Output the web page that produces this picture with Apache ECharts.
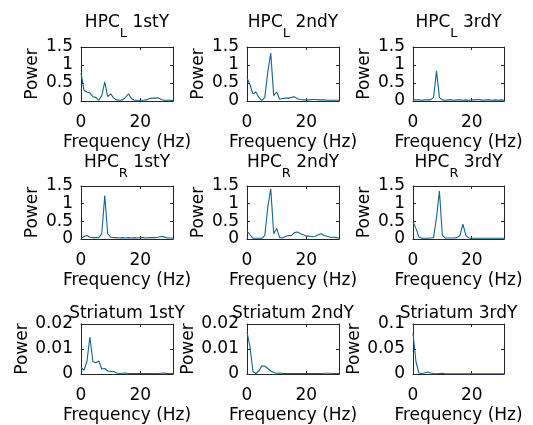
<!DOCTYPE html>
<html><head><meta charset="utf-8">
<script src="https://cdn.jsdelivr.net/npm/echarts@6/dist/echarts.min.js"></script>
<style>html,body{margin:0;padding:0;background:#fff}#c{width:533px;height:425px}</style>
</head><body><div id="c"></div>
<script>
// Frequency grid (Hz)
const freqHz = [0,1,2,3,4,5,6,7,8,9,10,11,12,13,14,15,16,17,18,19,20,21,22,23,24,25,26,27,28,29,30,31];

// Panel titles
const titleMain = ['HPC','HPC','HPC','HPC','HPC','HPC','Striatum 1stY','Striatum 2ndY','Striatum 3rdY'];
const titleSub  = ['L','L','L','R','R','R','','',''];
const titleTail = [' 1stY',' 2ndY',' 3rdY',' 1stY',' 2ndY',' 3rdY','','',''];

// Power spectra
const hpcL_1stY = [0.78,0.30,0.25,0.22,0.12,0.10,0.02,0.15,0.53,0.12,0.20,0.08,0.03,0.02,0.03,0.10,0.20,0.06,0.02,0.02,0.02,0.02,0.03,0.07,0.08,0.08,0.09,0.04,0.02,0.02,0.02,0.01];
const hpcL_2ndY = [0.65,0.45,0.20,0.25,0.10,0.02,0.10,0.80,1.33,0.15,0.25,0.05,0.07,0.08,0.08,0.10,0.12,0.06,0.04,0.03,0.03,0.03,0.04,0.04,0.03,0.03,0.03,0.02,0.02,0.02,0.02,0.02];
const hpcL_3rdY = [0.03,0.03,0.03,0.02,0.03,0.03,0.03,0.10,0.83,0.10,0.03,0.02,0.03,0.03,0.02,0.03,0.03,0.02,0.03,0.02,0.03,0.03,0.04,0.03,0.02,0.03,0.03,0.02,0.03,0.02,0.03,0.02];
const hpcR_1stY = [0.02,0.07,0.10,0.05,0.04,0.04,0.04,0.15,1.23,0.15,0.05,0.04,0.04,0.03,0.04,0.03,0.04,0.03,0.04,0.03,0.04,0.04,0.03,0.04,0.04,0.04,0.05,0.07,0.06,0.03,0.03,0.03];
const hpcR_2ndY = [0.22,0.12,0.02,0.02,0.02,0.02,0.10,0.90,1.42,0.15,0.30,0.04,0.03,0.08,0.10,0.10,0.18,0.20,0.15,0.12,0.08,0.08,0.07,0.08,0.12,0.15,0.10,0.08,0.05,0.05,0.04,0.03];
const hpcR_3rdY = [0.49,0.30,0.06,0.02,0.02,0.02,0.03,0.04,0.60,1.36,0.10,0.03,0.03,0.03,0.03,0.04,0.10,0.42,0.10,0.03,0.02,0.02,0.02,0.02,0.02,0.02,0.02,0.02,0.02,0.02,0.02,0.02];
const str_1stY = [0.0027,0.0015,0.0050,0.0148,0.0050,0.0045,0.0052,0.0020,0.0022,0.0012,0.0010,0.0010,0.0004,0.0002,0.0003,0.0004,0.0002,0.0002,0.0002,0.0002,0.0002,0.0002,0.0002,0.0002,0.0002,0.0002,0.0002,0.0003,0.0004,0.0002,0.0002,0.0002];
const str_2ndY = [0.0168,0.0110,0.0010,0.0002,0.0012,0.0033,0.0032,0.0022,0.0012,0.0006,0.0003,0.0004,0.0002,0.0002,0.0002,0.0002,0.0002,0.0002,0.0002,0.0002,0.0002,0.0002,0.0002,0.0002,0.0002,0.0002,0.0003,0.0003,0.0003,0.0002,0.0002,0.0002];
const str_3rdY = [0.082,0.025,0.002,0.001,0.002,0.004,0.002,0.001,0.0005,0.001,0.0015,0.0005,0.0003,0.0003,0.0003,0.0003,0.0003,0.0003,0.0003,0.0003,0.0003,0.0003,0.0003,0.0003,0.0003,0.0003,0.0003,0.0003,0.0003,0.0003,0.0003,0.0003];

// Axis tick settings
const xMax = 31, xInterval = 20;
const yMaxes = [1.5,1.5,1.5,1.5,1.5,1.5,0.02,0.02,0.1];
const yIntervals = [0.5,0.5,0.5,0.5,0.5,0.5,0.01,0.01,0.05];

const seriesData = [hpcL_1stY,hpcL_2ndY,hpcL_3rdY,hpcR_1stY,hpcR_2ndY,hpcR_3rdY,str_1stY,str_2ndY,str_3rdY];

const FONT = '"DejaVu Sans", sans-serif';
const FS = 17;
const INK = '#000';
const LINE = '#14638c';
const cols = [{left:81,width:92},{left:247,width:92},{left:413,width:91}];
const rows = [{top:47,height:54},{top:186,height:53},{top:324,height:51}];
const titleTop = [14,154,305];

const grids=[], xAxes=[], yAxes=[], series=[], titles=[];
for (let i=0;i<9;i++){
  const r=Math.floor(i/3), c=i%3;
  grids.push({left:cols[c].left, top:rows[r].top, width:cols[c].width, height:rows[r].height, containLabel:false});
  const axLine = {show:true, onZero:false, lineStyle:{color:'#262626', width:1}};
  const tick = {show:true, inside:true, length:3, lineStyle:{color:'#262626'}};
  xAxes.push({type:'value', gridIndex:i, position:'bottom', min:0, max:xMax, interval:xInterval,
    axisLine:axLine, axisTick:tick, splitLine:{show:false},
    axisLabel:{fontFamily:FONT, fontSize:FS, color:INK, margin:13, showMaxLabel:false},
    name:'Frequency (Hz)', nameLocation:'middle', nameGap:33,
    nameTextStyle:{fontFamily:FONT, fontSize:FS, color:INK}});
  xAxes.push({type:'value', gridIndex:i, position:'top', min:0, max:xMax, interval:xInterval,
    axisLine:axLine, axisTick:tick, splitLine:{show:false}, axisLabel:{show:false}});
  const str = i>=6;
  yAxes.push({type:'value', gridIndex:i, position:'left', min:0, max:yMaxes[i], interval:yIntervals[i],
    axisLine:axLine, axisTick:tick, splitLine:{show:false},
    axisLabel:{fontFamily:FONT, fontSize:FS, color:INK, margin:8},
    name:'Power', nameLocation:'middle', nameGap: str?50:40,
    nameTextStyle:{fontFamily:FONT, fontSize:FS, color:INK}});
  yAxes.push({type:'value', gridIndex:i, position:'right', min:0, max:yMaxes[i], interval:yIntervals[i],
    axisLine:axLine, axisTick:tick, splitLine:{show:false}, axisLabel:{show:false}});
  series.push({type:'line', xAxisIndex:2*i, yAxisIndex:2*i, showSymbol:false, symbol:'none',
    lineStyle:{color:LINE, width:1.1}, itemStyle:{color:LINE},
    data: freqHz.map((f,j)=>[f, seriesData[i][j]])});
  const cx = cols[c].left + cols[c].width/2;
  if (titleSub[i]) {
    titles.push({left:cx, top:titleTop[r], textAlign:'center', padding:0,
      text:'{a|'+titleMain[i]+'}{s|'+titleSub[i]+'}{a|'+titleTail[i]+'}',
      textStyle:{fontWeight:'normal', rich:{
        a:{fontFamily:FONT, fontSize:FS, fontWeight:'normal', color:INK, lineHeight:18, verticalAlign:'top'},
        s:{fontFamily:FONT, fontSize:13, fontWeight:'normal', color:INK, lineHeight:26, verticalAlign:'bottom'}
      }}});
  } else {
    titles.push({left:cx, top:titleTop[r], textAlign:'center', padding:0, text:titleMain[i],
      textStyle:{fontFamily:FONT, fontSize:FS, color:INK, fontWeight:'normal', lineHeight:18}});
  }
}

const chart = echarts.init(document.getElementById('c'), null, {renderer:'canvas'});
chart.setOption({animation:false, backgroundColor:'#fff', title:titles, grid:grids, xAxis:xAxes, yAxis:yAxes, series:series});
</script>
</body></html>
